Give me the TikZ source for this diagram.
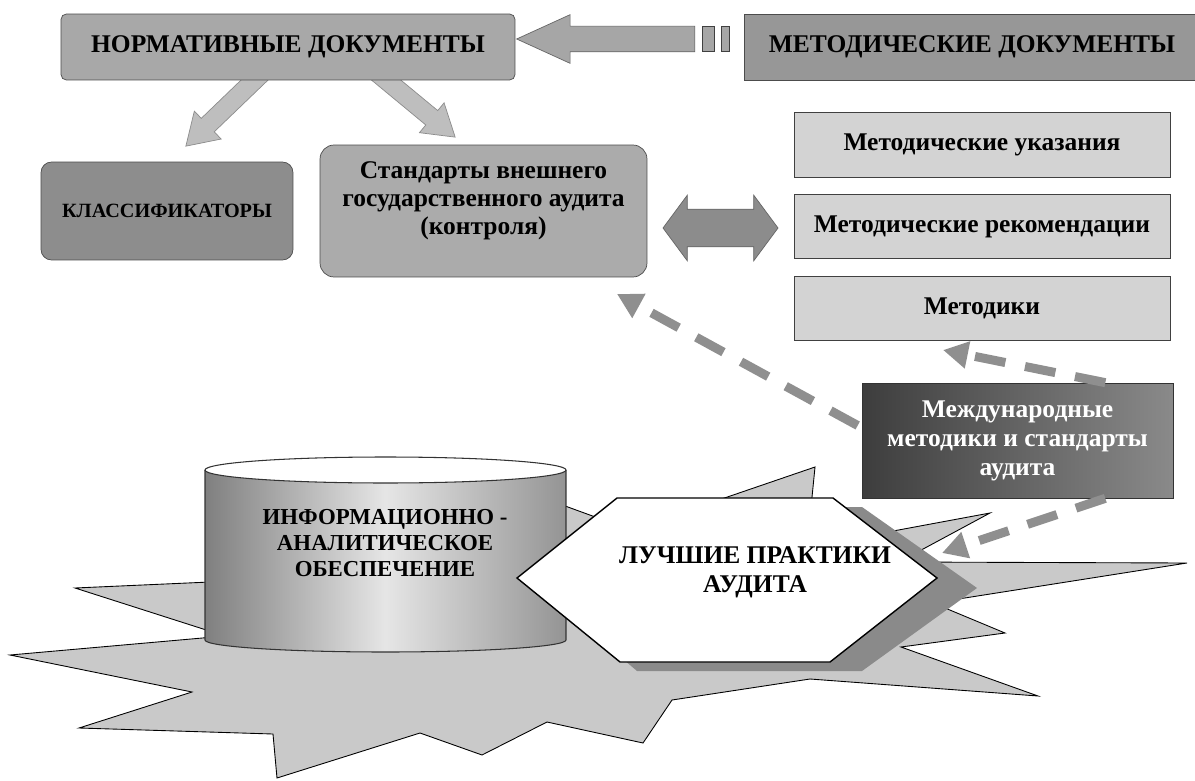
\documentclass[tikz,border=0pt]{standalone}
\usepackage{fontspec}
\setmainfont{Liberation Serif}
\usetikzlibrary{shapes.arrows, arrows.meta, calc}
\definecolor{normfill}{HTML}{A8A8A8}
\definecolor{metfill}{HTML}{979797}
\definecolor{klassfill}{HTML}{8D8D8D}
\definecolor{stdfill}{HTML}{ABABAB}
\definecolor{itemfill}{HTML}{D3D3D3}
\definecolor{bigfill}{HTML}{A6A6A6}
\definecolor{downfill}{HTML}{BEBEBE}
\definecolor{dblfill}{HTML}{8C8C8C}
\definecolor{dashgray}{HTML}{8F8F8F}
\definecolor{starfill}{HTML}{C9C9C9}
\definecolor{shadowfill}{HTML}{8A8A8A}
\tikzset{
  txt/.style={font=\fontsize{14.5}{16}\selectfont\bfseries, align=center},
  normbox/.style={txt, draw=black!70, fill=normfill, rounded corners=3pt,
                  minimum width=9.08cm, minimum height=1.32cm},
  metbox/.style={txt, draw=black!70, fill=metfill,
                 minimum width=9.12cm, minimum height=1.32cm},
  klassbox/.style={txt, draw=black!70, fill=klassfill, rounded corners=6pt,
                   minimum width=5.04cm, minimum height=1.96cm,
                   font=\fontsize{11.5}{13}\selectfont\bfseries},
  stdbox/.style={draw=black!70, fill=stdfill, rounded corners=8pt,
                 minimum width=6.54cm, minimum height=2.64cm},
  metitem/.style={txt, draw=black!75, fill=itemfill,
                  minimum width=7.52cm, minimum height=1.29cm},
  intlbox/.style={txt, draw=black!80, left color=black!76, right color=black!46,
                  text=white, minimum width=6.22cm, minimum height=2.3cm,
                  font=\fontsize{14.5}{16.5}\selectfont\bfseries},
  bigarrow/.style={single arrow, draw=black!60, fill=bigfill,
                   inner xsep=0pt, inner ysep=0.25cm,
                   single arrow head extend=0.23cm, single arrow tip angle=49},
  downarrow/.style={single arrow, draw=black!45, fill=downfill,
                    inner xsep=0pt, inner ysep=0.18cm,
                    single arrow head extend=0.2cm, single arrow tip angle=65},
  dblarrow/.style={double arrow, draw=black!60, fill=dblfill,
                   inner xsep=0pt, inner ysep=0.37cm, minimum height=2.3cm,
                   double arrow head extend=0.28cm, double arrow tip angle=107},
  stub/.style={draw=black!75, fill=bigfill, minimum height=0.5cm, inner sep=0pt},
  dasharrow/.style={draw=dashgray, line width=0.18cm,
                    dash pattern=on 0.62cm off 0.4cm,
                    -{Triangle[length=0.5cm, width=0.52cm, fill=dashgray]}},
  star/.style={draw=black, fill=starfill, line width=0.5pt},
  hexa/.style={draw=black, fill=white, line width=0.8pt},
  hexshadow/.style={fill=shadowfill}
}
\begin{document}
\begin{tikzpicture}[x=0.02cm, y=-0.02cm]
  \useasboundingbox (0,0) rectangle (1195,780);
  \fill[white] (0,0) rectangle (1195,780);
  \clip (0,0) rectangle (1195,780);

  % Burst under the base
  \draw[star] (10,655) -- (225,636) -- (75,588) -- (300,578) -- (480,475)
    -- (631,530) -- (815,467) -- (807,547) -- (990,513) -- (899,562)
    -- (1187,563) -- (933,603) -- (1005,633) -- (901,647) -- (1038,696)
    -- (810,679) -- (672,700) -- (643,743) -- (547,722) -- (482,755)
    -- (420,733) -- (277,778) -- (273,734) -- (79,728) -- (192,692) -- cycle;

  % Cylinder
  \shade[left color=black!50, right color=black!42, middle color=black!10]
    (205,470) -- (205,640) arc[start angle=180, end angle=0,
    x radius=180.5, y radius=12] -- (566,470) -- cycle;
  \draw[black!80, line width=0.6pt] (205,470) -- (205,640)
    arc[start angle=180, end angle=0, x radius=180.5, y radius=12] -- (566,470);
  \draw[black!80, fill=white, line width=0.6pt] (385.5,470)
    ellipse[x radius=180.5, y radius=13];
  \node[txt, font=\fontsize{13}{15}\selectfont\bfseries] (info) at (385,543)
    {ИНФОРМАЦИОННО -\\АНАЛИТИЧЕСКОЕ\\ОБЕСПЕЧЕНИЕ};

  % Hexagon
  \fill[hexshadow] (540,588) -- (640,507) -- (862,507) -- (977,588)
    -- (862,671) -- (637,671) -- cycle;
  \draw[hexa] (517,578) -- (617,498) -- (833,498) -- (937,578)
    -- (830,662) -- (620,662) -- cycle;
  \node[txt, font=\fontsize{14.5}{16.5}\selectfont\bfseries] (best) at (755,572)
    {ЛУЧШИЕ ПРАКТИКИ\\АУДИТА};

  % Top row
  \node[downarrow, rotate=223.9, anchor=tail, minimum height=2.19cm] (arrkl) at (265,70) {};
  \node[downarrow, rotate=-39.6, anchor=tail, minimum height=2.1cm] (arrst) at (374,70) {};
  \node[normbox] (norm) at (288,47) {НОРМАТИВНЫЕ ДОКУМЕНТЫ};
  \node[metbox] (metod) at (972,47) {МЕТОДИЧЕСКИЕ ДОКУМЕНТЫ};
  \node[bigarrow, rotate=180, anchor=tail, minimum height=3.56cm] (arrmet) at (695,39) {};
  \node[stub, minimum width=0.24cm] (stuba) at (708,38.5) {};
  \node[stub, minimum width=0.16cm] (stubb) at (725,38.5) {};

  % Middle row
  \node[klassbox] (klass) at (167,211) {КЛАССИФИКАТОРЫ};
  \node[stdbox] (std) at (483.5,211) {};
  \node[txt] (stdtext) at (483.5,201)
    {Стандарты внешнего\\государственного аудита\\(контроля)};
  \node[dblarrow] (arrdbl) at (720.5,228) {};
  \node[metitem] (ukaz) at (982,145) {Методические указания};
  \node[metitem] (rekom) at (982,226.5) {Методические рекомендации};
  \node[metitem] (metodiki) at (982,308.5) {Методики};
  \node[intlbox] (intl) at (1017.5,440.5)
    {Международные\\методики и стандарты\\аудита};

  % Dashed links
  \coordinate (stdend) at (617,294);
  \coordinate (metend) at (943,350);
  \coordinate (bestend) at (942,553);
  \draw[dasharrow] ($(intl.west)+(-4,-15)$) -- (stdend);
  \draw[dasharrow] ($(intl.north east)+(-68,0)$) -- (metend);
  \draw[dasharrow] ($(intl.south east)+(-68,0)$) -- (bestend);
\end{tikzpicture}
\end{document}
